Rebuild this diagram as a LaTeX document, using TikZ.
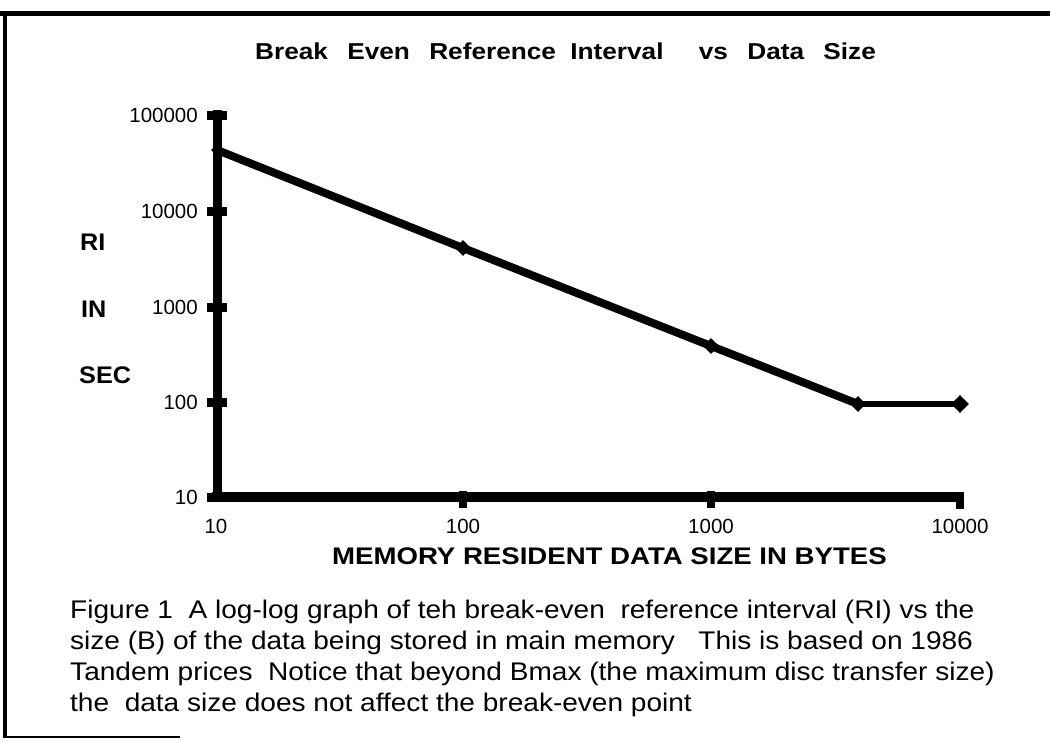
\documentclass[tikz,border=0pt]{standalone}
\usepackage{fontspec}
\setmainfont{Liberation Sans}
\newfontfamily\capfont[FakeStretch=1.1]{Liberation Sans}
\newfontfamily\titfont[FakeStretch=1.14]{Liberation Sans}
\newfontfamily\axtfont[FakeStretch=1.15]{Liberation Sans}
\newfontfamily\ylabfont[FakeStretch=1.05]{Liberation Sans}
\usetikzlibrary{shapes.geometric}
\begin{document}
\begin{tikzpicture}[x=1pt,y=-1pt,
  frameline/.style={line width=#1, black},
  ytickbox/.style={fill=black, minimum width=20pt, minimum height=9pt, inner sep=0pt, draw=none},
  xtickbox/.style={fill=black, minimum width=8pt, minimum height=17pt, inner sep=0pt, draw=none},
  ticklab/.style={font=\fontsize{20.5}{23}\selectfont, inner sep=0pt},
  datamark/.style={diamond, fill=black, minimum width=16pt, minimum height=16pt, inner sep=0pt, draw=none},
  dataline/.style={line width=8pt, line join=round, line cap=round},
  caption/.style={font=\capfont\fontsize{25.5}{31}\selectfont, anchor=base west, inner sep=0pt},
  sidelab/.style={font=\ylabfont\bfseries\fontsize{24}{26}\selectfont, anchor=base west, inner sep=0pt}
]
\useasboundingbox[fill=white] (0,0) rectangle (1050,740);

% outer frame (partial, as scanned)
\coordinate (ftl) at (0,13.5);
\coordinate (ftr) at (1050,13.5);
\coordinate (flt) at (5,11.5);
\coordinate (flb) at (5,738);
\coordinate (fbl) at (3,737);
\coordinate (fbr) at (180,737);
\draw[frameline=4.5pt] (ftl) -- (ftr);
\draw[frameline=3.5pt] (flt) -- (flb);
\draw[frameline=2.5pt] (fbl) -- (fbr);

% title
\node[font=\titfont\bfseries\fontsize{23}{26}\selectfont, anchor=base west, inner sep=0pt] (title) at (255,59)
  {Break\hspace{12pt} Even\hspace{12pt} Reference\hspace{7pt} Interval\hspace{28pt} vs\hspace{12pt} Data\hspace{12pt} Size};

% axes
\coordinate (ytop) at (217,110);
\coordinate (ybot) at (217,502);
\coordinate (xleft) at (212,497);
\coordinate (xright) at (964,497);
\draw[line width=9pt] (ytop) -- (ybot);
\draw[line width=10pt] (xleft) -- (xright);

% y ticks and labels
\node[ytickbox] (yt5) at (217,115) {};
\node[ytickbox] (yt4) at (217,211) {};
\node[ytickbox] (yt3) at (217,307) {};
\node[ytickbox] (yt2) at (217,402) {};
\node[ytickbox] (yt1) at (217,497) {};
\node[ticklab, anchor=east] (yl5) at (198,115) {100000};
\node[ticklab, anchor=east] (yl4) at (198,211) {10000};
\node[ticklab, anchor=east] (yl3) at (198,307) {1000};
\node[ticklab, anchor=east] (yl2) at (198,402) {100};
\node[ticklab, anchor=east] (yl1) at (198,497) {10};

% x ticks and labels
\node[xtickbox] (xt2) at (463,499) {};
\node[xtickbox] (xt3) at (711,499) {};
\node[xtickbox] (xt4) at (960,500) {};
\node[ticklab, anchor=base] (xl1) at (216,533) {10};
\node[ticklab, anchor=base] (xl2) at (463,533) {100};
\node[ticklab, anchor=base] (xl3) at (711,533) {1000};
\node[ticklab, anchor=base] (xl4) at (960,533) {10000};

% side label
\node[sidelab] (ri) at (80,250) {RI};
\node[sidelab] (in) at (81,317) {IN};
\node[sidelab] (sec) at (79,383) {SEC};

% axis title
\node[font=\axtfont\bfseries\fontsize{24}{27}\selectfont, anchor=base west, inner sep=0pt] (xtitle) at (332,564)
  {MEMORY RESIDENT DATA SIZE IN BYTES};

% data
\coordinate (p1) at (217,150);
\coordinate (p2) at (463,248);
\coordinate (p3) at (711,346);
\coordinate (p4) at (858,404);
\coordinate (p5) at (960,404);
\draw[dataline] (p1) -- (p2) -- (p3) -- (p4);
\draw[line width=6pt] (p4) -- (p5);
\node[datamark, minimum width=12pt, minimum height=12pt] (m1) at (p1) {};
\node[datamark] (m2) at (p2) {};
\node[datamark] (m3) at (p3) {};
\node[datamark] (m4) at (p4) {};
\node[datamark, minimum width=18pt, minimum height=18pt] (m5) at (p5) {};

% caption
\node[caption] (cap1) at (70,618) {Figure 1\ \ A log-log graph of teh break-even\ \ reference interval (RI) vs the};
\node[caption] (cap2) at (70,649) {size (B) of the data being stored in main memory\ \ \ This is based on 1986};
\node[caption] (cap3) at (70,680) {Tandem prices\ \ Notice that beyond Bmax (the maximum disc transfer size)};
\node[caption] (cap4) at (70,711) {the\ \ data size does not affect the break-even point};
\end{tikzpicture}
\end{document}
